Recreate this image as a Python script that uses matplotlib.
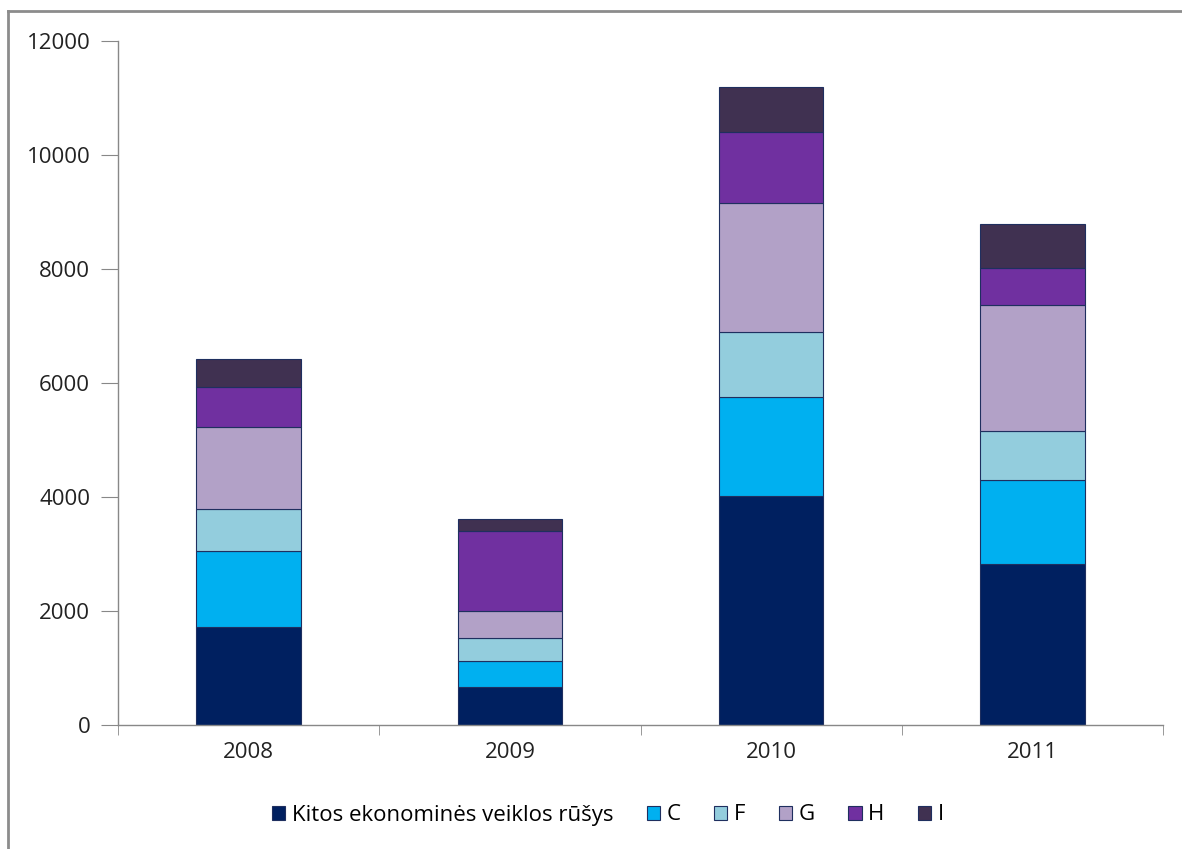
import matplotlib
matplotlib.use('Agg')
import matplotlib.pyplot as plt
from matplotlib.lines import Line2D
import numpy as np

plt.rcParams['font.family'] = ['Open Sans', 'DejaVu Sans']

years = ['2008', '2009', '2010', '2011']
series_names = ['Kitos ekonominės veiklos rūšys', 'C', 'F', 'G', 'H', 'I']
kitos = [1714, 672, 4023, 2819]
c_vals = [1339, 446, 1731, 1474]
f_vals = [742, 408, 1146, 870]
g_vals = [1428, 469, 2263, 2200]
h_vals = [702, 1409, 1235, 649]
i_vals = [496, 210, 790, 772]
colors = ['#002060', '#00B0F0', '#93CDDD', '#B2A1C7', '#7030A0', '#403151']

series = [kitos, c_vals, f_vals, g_vals, h_vals, i_vals]

fig = plt.figure(figsize=(11.82, 8.49), dpi=100)
ax = fig.add_axes([118/1182, 1 - 725/849, (1163-118)/1182, (725-41)/849])

x = np.arange(len(years))
bottom = np.zeros(len(years))
handles = []
for name, vals, col in zip(series_names, series, colors):
    b = ax.bar(x, vals, bottom=bottom, width=0.40, color=col,
               edgecolor='#1F2F5F', linewidth=0.8, label=name)
    handles.append(b)
    bottom += np.array(vals)

ax.set_xlim(-0.5, 3.5)
ax.set_ylim(0, 12000)
ax.set_yticks(range(0, 12001, 2000))
ax.set_xticks(x)
ax.set_xticklabels(years)
ax.set_xticks(np.arange(-0.5, 4.0, 1.0), minor=True)
ax.tick_params(axis='x', which='major', length=0, pad=12)
ax.tick_params(axis='x', which='minor', length=7, color='#888888')
ax.tick_params(axis='y', length=12, color='#888888', pad=8)
ax.tick_params(labelsize=16, labelcolor='#222222')

for s in ['top', 'right']:
    ax.spines[s].set_visible(False)
for s in ['left', 'bottom']:
    ax.spines[s].set_color('#888888')
    ax.spines[s].set_linewidth(1.0)

leg = fig.legend(handles=handles, labels=series_names, loc='center',
                 bbox_to_anchor=(608/1182, 1 - 815/849), ncol=6, frameon=False,
                 fontsize=16, handlelength=0.6, handleheight=0.6,
                 handletextpad=0.3, columnspacing=1.5)

# chart area frame: only left and top edges are visible in the crop
fig.add_artist(Line2D([8/1182, 8/1182], [0, 1 - 11/849], transform=fig.transFigure,
                      color='#8C8C8C', linewidth=2))
fig.add_artist(Line2D([8/1182, 1], [1 - 11/849, 1 - 11/849], transform=fig.transFigure,
                      color='#8C8C8C', linewidth=2))

fig.savefig('out.png', dpi=100)
